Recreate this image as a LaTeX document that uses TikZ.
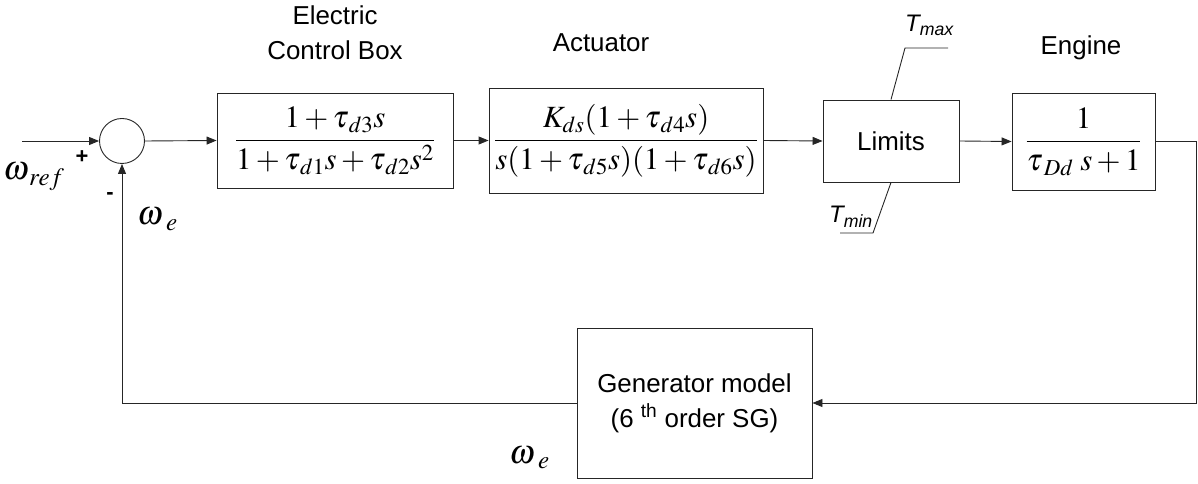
\documentclass[tikz,border=0pt]{standalone}
\usepackage{amsmath}
\usepackage{mathptmx}
\usepackage[no-math]{fontspec}
\setmainfont{Liberation Sans}
\usetikzlibrary{arrows.meta}
\begin{document}
\begin{tikzpicture}[x=1bp,y=-1bp,
  line/.style={draw=black!85, line width=0.9bp},
  arr/.style={line, -{Triangle[length=10bp,width=8bp]}},
  blk/.style={line, rectangle, inner sep=0pt},
  lbl/.style={font=\fontsize{26}{35}\selectfont, align=center},
  mth/.style={font=\fontsize{31}{36}\selectfont, inner sep=0pt},
  sym/.style={font=\fontsize{34}{38}\selectfont, inner sep=0pt},
  lim/.style={font=\fontsize{24}{28}\selectfont\itshape, inner sep=0pt}]
\useasboundingbox (0,0) rectangle (1198,484);
% blocks
\node[line, circle, minimum size=45bp, inner sep=0pt] (sum) at (122,141) {};
\node[blk, minimum width=236bp, minimum height=95bp, mth] (ecb) at (335,140.5)
  {$\dfrac{1+\tau_{\mkern2mu d3}s}{1+\tau_{\mkern2mu d1}s+\tau_{\mkern2mu d2}s^{2}}$};
\node[blk, minimum width=274bp, minimum height=105bp, mth] (act) at (626,140.5)
  {$\dfrac{K_{ds}(1+\tau_{\mkern2mu d4}s)}{s(1+\tau_{\mkern2mu d5}s)(1+\tau_{\mkern2mu d6}s)}$};
\node[blk, minimum width=136bp, minimum height=82bp, lbl] (lim) at (891,141) {Limits};
\node[blk, minimum width=143bp, minimum height=97bp, mth] (eng) at (1083.5,141.5)
  {$\dfrac{1}{\tau_{\mkern3mu Dd}\;s+1}$};
\node[blk, minimum width=235bp, minimum height=150bp, lbl] (gen) at (694.5,403)
  {Generator model\\(6 \textsuperscript{th} order SG)};
% titles
\node[lbl, anchor=north] (tecb) at (335,2) {Electric\\Control Box};
\node[lbl, anchor=base] (tact) at (601,52) {Actuator};
\node[lbl, anchor=base] (teng) at (1081,55) {Engine};
% limits
\coordinate (tmaxk) at (905,48);
\coordinate (tmaxe) at (948,48);
\coordinate (tmink) at (873,233);
\coordinate (tmine) at (840,233);
\draw[line] (lim.north) -- (tmaxk) -- (tmaxe);
\draw[line] (lim.south) -- (tmink) -- (tmine);
\node[lim, anchor=base west] (tmax) at (905,32) {T\textsubscript{max}};
\node[lim, anchor=base west] (tmin) at (829,223) {T\textsubscript{min}};
% signals
\coordinate (in) at (22,141);
\coordinate (out) at (1196,141.5);
\draw[arr] (in) -- (sum.west);
\draw[arr] (sum.east) -- (ecb.west);
\draw[arr] (ecb.east) -- (act.west);
\draw[arr] (act.east) -- (lim.west);
\draw[arr] (lim.east) -- (eng.west);
\draw[arr] (eng.east) -- (out) |- (gen.east);
\draw[arr] (gen.west) -| (sum.south);
% signs and symbols
\node[font=\fontsize{22}{24}\selectfont\bfseries, inner sep=0pt] (plus) at (82,157) {+};
\node[font=\fontsize{22}{24}\selectfont\bfseries, inner sep=0pt] (minus) at (110,196) {-};
\node[sym, anchor=base west] (wref) at (3,180) {$\omega_{\mkern2mu ref}$};
\node[sym, anchor=base west] (we1) at (137,225) {$\omega_{\mkern4mu e}$};
\node[sym, anchor=base west] (we2) at (509,463) {$\omega_{\mkern4mu e}$};
\end{tikzpicture}
\end{document}
